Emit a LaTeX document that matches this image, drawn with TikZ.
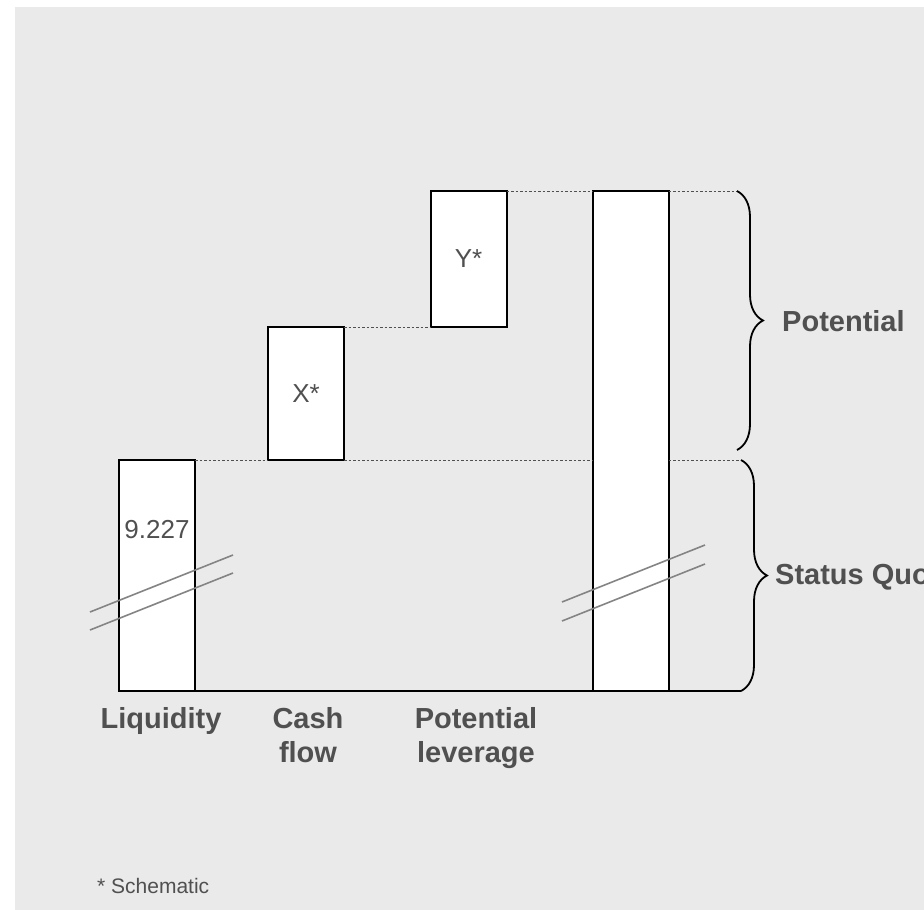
\documentclass[tikz,border=0pt]{standalone}
\usepackage{fontspec}
\setmainfont{Liberation Sans}
\usepackage{xcolor}
\usetikzlibrary{decorations.pathreplacing}
\definecolor{bg}{HTML}{EAEAEA}
\definecolor{txt}{HTML}{505050}
\definecolor{brkgray}{HTML}{848484}

\begin{document}
\begin{tikzpicture}[x=1pt,y=-1pt,
    bar/.style={draw=black,line width=2pt,fill=white,minimum width=76pt,inner sep=0pt,outer sep=0pt,
                text=txt,font=\fontsize{26}{30}\selectfont},
    val/.style={text=txt,font=\fontsize{26}{30}\selectfont,inner sep=0pt},
    lbl/.style={text=txt,font=\fontsize{29}{34}\selectfont\bfseries,align=center,inner sep=0pt},
    dotline/.style={draw=txt,line width=1pt,dash pattern=on 2.5pt off 2pt},
    brk/.style={draw=brkgray,line width=1.6pt},
    curly/.style={draw=black,line width=1.8pt,decorate,decoration={brace,amplitude=26pt}}]
    \useasboundingbox (0,0) rectangle (924,910);
    \clip (0,0) rectangle (924,910);
    \fill[bg] (15,7) rectangle (924,910);

    \node[bar,minimum height=231pt] (liq) at (157,575.5)  {};
    \node[bar,minimum height=133pt] (xcf) at (306,393.5)  {X*};
    \node[bar,minimum height=136pt] (ylev) at (468.5,259) {Y*};
    \node[bar,minimum height=500pt] (tot) at (630.5,441)  {};
    \node[val] (liqval) at (157,530) {9.227};

    \coordinate (ptop) at (737,191);
    \coordinate (pbot) at (737,450);
    \coordinate (sqtop) at (741,460);
    \coordinate (sqbot) at (741,691);

    \draw[line width=2pt] (liq.south west) -- (sqbot);
    \draw[dotline] (liq.north east) -- (xcf.south west);
    \draw[dotline] (xcf.south east) -- (tot.west |- xcf.south);
    \draw[dotline] (tot.east |- xcf.south) -- (sqtop);
    \draw[dotline] (xcf.north east) -- (ylev.south west);
    \draw[dotline] (ylev.north east) -- (tot.north west);
    \draw[dotline] (tot.north east) -- (ptop);

    \draw[curly] (ptop) -- (pbot);
    \draw[curly] (sqtop) -- (sqbot);

    \draw[brk] (90,612) -- (233,555);
    \draw[brk] (90,630) -- (233,573);
    \draw[brk] (562,602) -- (705,545);
    \draw[brk] (562,621) -- (705,564);

    \node[lbl,anchor=west] (pot) at (782,321) {Potential};
    \node[lbl,anchor=west] (sq)  at (775,577) {Status Quo};
    \node[lbl,anchor=north] (liqlbl) at (161,707) {Liquidity};
    \node[lbl,anchor=north] (cflbl)  at (308,707) {Cash\\flow};
    \node[lbl,anchor=north] (levlbl) at (476,707) {Potential\\leverage};
    \node[val,font=\fontsize{21}{25}\selectfont,anchor=west] (note) at (97,886) {* Schematic};
\end{tikzpicture}
\end{document}
